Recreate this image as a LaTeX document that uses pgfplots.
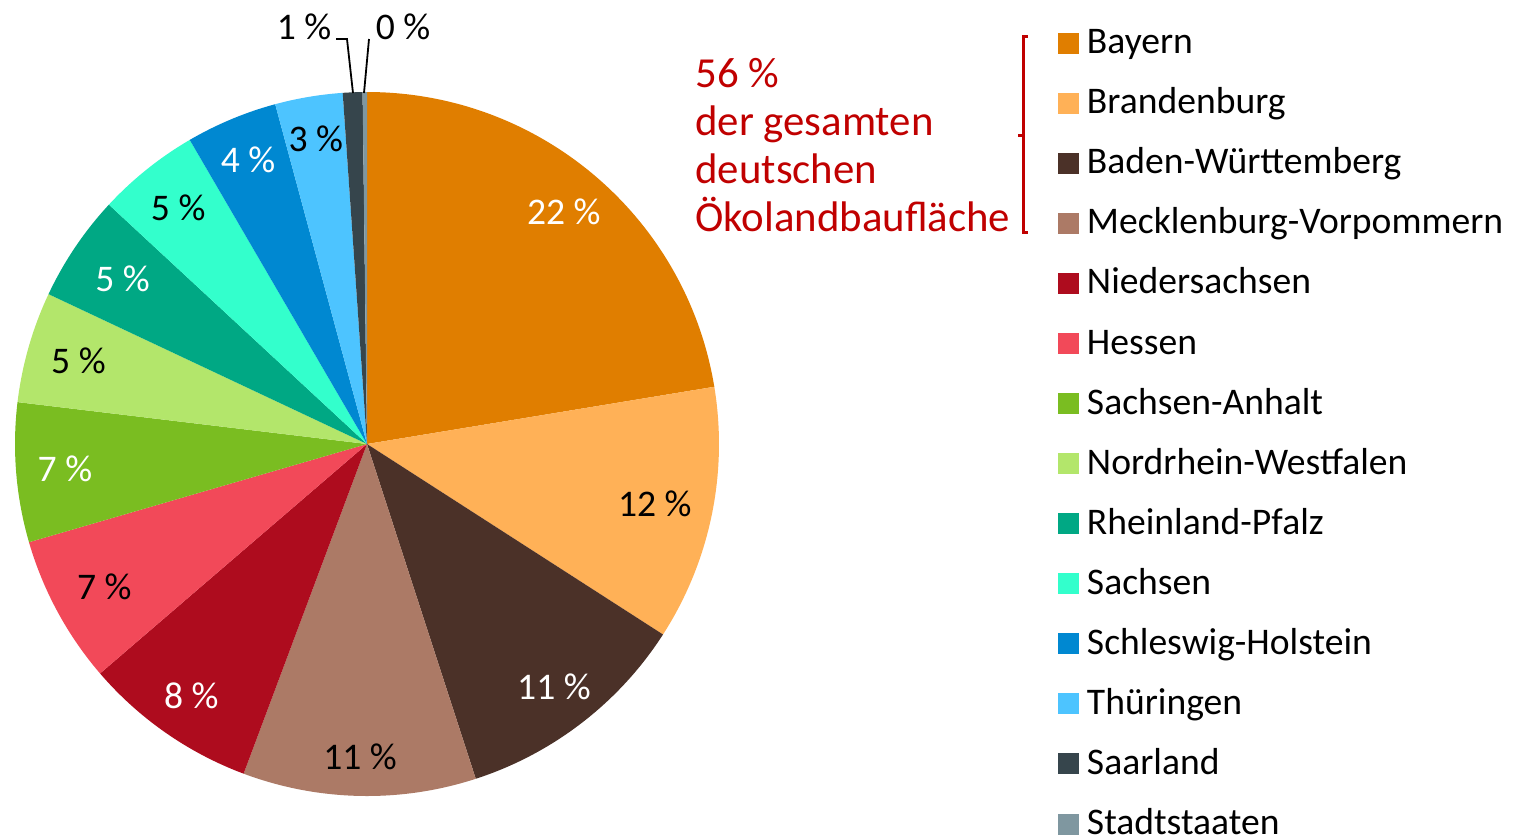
\documentclass[border=0pt]{standalone}
\usepackage{pgfplots}
\pgfplotsset{compat=1.18}
\usepackage{pgfplotstable}
\usepackage{fontspec}
\setmainfont{Carlito}

\definecolor{cBay}{HTML}{E07E00}
\definecolor{cBra}{HTML}{FFB157}
\definecolor{cBW}{HTML}{4B3128}
\definecolor{cMV}{HTML}{AC7A66}
\definecolor{cNds}{HTML}{AE0C1E}
\definecolor{cHes}{HTML}{F24959}
\definecolor{cSA}{HTML}{7ABD21}
\definecolor{cNRW}{HTML}{B3E66B}
\definecolor{cRP}{HTML}{00A884}
\definecolor{cSac}{HTML}{33FFCC}
\definecolor{cSH}{HTML}{0088D1}
\definecolor{cThu}{HTML}{4DC4FF}
\definecolor{cSaar}{HTML}{36454C}
\definecolor{cStadt}{HTML}{7F97A0}
\definecolor{annot}{HTML}{C00000}

\newcommand\chartfont{\fontsize{18.8}{24}\selectfont}

% share of the organic farmland per state, in percent
% lr = distance of the slice label from the centre (share of the radius)
\pgfplotstableread{
share lab col txt lr
22.4 22 cBay white 0.864
11.7 12 cBra black 0.835
10.9 11 cBW white 0.87
10.7 11 cMV black 0.89
8.0 8 cNds white 0.872
6.8 7 cHes black 0.849
6.4 7 cSA white 0.861
5.1 5 cNRW black 0.853
4.9 5 cRP white 0.838
4.7 5 cSac black 0.858
4.2 4 cSH white 0.876
3.1 3 cThu black 0.878
0.9 1 cSaar white 0
0.2 0 cStadt white 0
}\piedata

\begin{document}
\begin{tikzpicture}
\useasboundingbox (0,0) rectangle (756.5pt,-418.5pt);

\begin{axis}[
    at={(183.5pt,-222pt)}, anchor=origin,
    scale only axis,
    width=352pt, height=352pt,
    xmin=-1, xmax=1, ymin=-1, ymax=1,
    hide axis, clip=false,
    legend cell align=left,
    legend image code/.code={\fill[#1, draw=none] (0pt,-4.5pt) rectangle (10.5pt,6pt);},
    legend style={draw=none, fill=none, at={(1.4815,1.0913)}, anchor=north west,
        inner sep=0pt, outer sep=0pt, font=\chartfont,
        /tikz/row sep=13.03pt, /tikz/column sep=4pt,
        nodes={inner sep=0pt, text height=13pt, text depth=4pt}},
]
\pgfplotsextra{
  \gdef\curang{90}
  \foreach \i in {0,...,13} {
    \pgfplotstablegetelem{\i}{share}\of\piedata \let\pieS\pgfplotsretval
    \pgfplotstablegetelem{\i}{col}\of\piedata \let\pieC\pgfplotsretval
    \pgfmathsetmacro{\endang}{\curang-3.6*\pieS}
    \fill[fill=\pieC] (axis cs:0,0) -- (axis cs:{cos(\curang)},{sin(\curang)})
        arc[start angle=\curang, end angle=\endang, radius=176pt] -- cycle;
    \ifnum\i<12
      \pgfplotstablegetelem{\i}{lab}\of\piedata \let\pieL\pgfplotsretval
      \pgfplotstablegetelem{\i}{txt}\of\piedata \let\pieT\pgfplotsretval
      \pgfplotstablegetelem{\i}{lr}\of\piedata \let\pieR\pgfplotsretval
      \pgfmathsetmacro{\pieM}{(\curang+\endang)/2}
      \node[text=\pieT, font=\chartfont, inner sep=0pt]
          at (axis cs:{\pieR*cos(\pieM)},{\pieR*sin(\pieM)}) {\pieL~\%};
    \fi
    \xdef\curang{\endang}
  }
}
\addlegendimage{fill=cBay}\addlegendentry{Bayern}
\addlegendimage{fill=cBra}\addlegendentry{Brandenburg}
\addlegendimage{fill=cBW}\addlegendentry{Baden-Württemberg}
\addlegendimage{fill=cMV}\addlegendentry{Mecklenburg-Vorpommern}
\addlegendimage{fill=cNds}\addlegendentry{Niedersachsen}
\addlegendimage{fill=cHes}\addlegendentry{Hessen}
\addlegendimage{fill=cSA}\addlegendentry{Sachsen-Anhalt}
\addlegendimage{fill=cNRW}\addlegendentry{Nordrhein-Westfalen}
\addlegendimage{fill=cRP}\addlegendentry{Rheinland-Pfalz}
\addlegendimage{fill=cSac}\addlegendentry{Sachsen}
\addlegendimage{fill=cSH}\addlegendentry{Schleswig-Holstein}
\addlegendimage{fill=cThu}\addlegendentry{Thüringen}
\addlegendimage{fill=cSaar}\addlegendentry{Saarland}
\addlegendimage{fill=cStadt}\addlegendentry{Stadtstaaten}
\end{axis}

\begin{scope}[x=0.5pt, y=-0.5pt]
  % labels of the two thin slices with leader lines
  \node[font=\chartfont, inner sep=0pt] at (304,27) {1~\%};
  \node[font=\chartfont, inner sep=0pt] at (403,27) {0~\%};
  \draw[line width=0.9pt] (336,39) -- (347,39) -- (353,93);
  \draw[line width=0.9pt] (369,39) -- (364,93);
  % annotation for the four largest states
  \node[font=\fontsize{21.4}{24}\selectfont, text=annot, align=left, anchor=base west, inner sep=0pt]
      at (695,231) {56~\%\\der gesamten\\deutschen\\Ökolandbaufläche};
  \draw[annot, line width=1.5pt] (1028,36) -- (1023,36) -- (1023,232) -- (1028,232);
  \draw[annot, line width=1.5pt] (1023,135) -- (1018,135);
\end{scope}
\end{tikzpicture}
\end{document}
